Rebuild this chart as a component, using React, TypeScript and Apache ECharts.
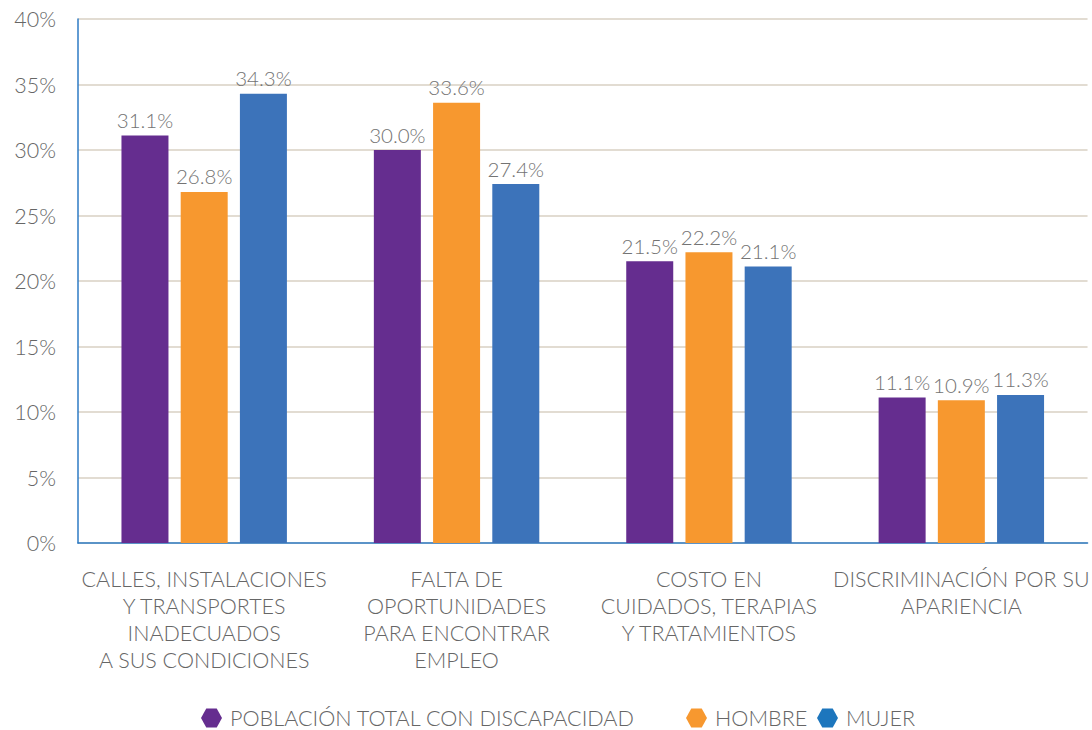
import React, { useEffect, useRef } from "react";
import * as echarts from "echarts";

const categories = [
  "CALLES, INSTALACIONES\nY TRANSPORTES\nINADECUADOS\nA SUS CONDICIONES",
  "FALTA DE\nOPORTUNIDADES\nPARA ENCONTRAR\nEMPLEO",
  "COSTO EN\nCUIDADOS, TERAPIAS\nY TRATAMIENTOS",
  "DISCRIMINACIÓN POR SU\nAPARIENCIA",
];
const seriesNames = ["POBLACIÓN TOTAL CON DISCAPACIDAD", "HOMBRE", "MUJER"];
const totalValues = [31.1, 30.0, 21.5, 11.1];
const hombreValues = [26.8, 33.6, 22.2, 10.9];
const mujerValues = [34.3, 27.4, 21.1, 11.3];
const colors = ["#652D8F", "#F7982F", "#3C73BA"];
const legendIconColors = ["#652D8F", "#F7982F", "#1D76BD"];

const FONT = "Lato, 'Open Sans', sans-serif";
const W = 300;
const GRAY = "#666666";
const HEX = "path://M5,0 L15,0 L20,9 L15,18 L5,18 L0,9 Z";

export default function App() {
  const ref = useRef<HTMLDivElement>(null);
  useEffect(() => {
    if (!ref.current) return;
    const chart = echarts.init(ref.current, null, { renderer: "svg" });
    const values = [totalValues, hombreValues, mujerValues];
    const legendLefts = [201, 686, 817];
    chart.setOption({
      animation: false,
      textStyle: { fontFamily: FONT },
      grid: { left: 78, right: 0, top: 19, bottom: 187, containLabel: false },
      legend: seriesNames.map((n, i) => ({
        data: [{ name: n, itemStyle: { color: legendIconColors[i] } }],
        left: legendLefts[i],
        top: 707,
        padding: 0,
        icon: HEX,
        itemWidth: 21,
        itemHeight: 19,
        itemGap: 0,
        textStyle: { color: GRAY, fontSize: 21.6, fontWeight: W, fontFamily: FONT, padding: [0, 0, 0, 3] },
        selectedMode: false,
      })),
      xAxis: {
        type: "category",
        data: categories,
        axisLine: { show: true, lineStyle: { color: "#2E7BC4", width: 1.5 } },
        axisTick: { show: false },
        axisLabel: {
          color: GRAY,
          fontSize: 21.5,
          fontWeight: W,
          fontFamily: FONT,
          lineHeight: 27,
          margin: 22,
          interval: 0,
          align: "center",
        },
      },
      yAxis: {
        type: "value",
        min: 0,
        max: 40,
        interval: 5,
        axisLine: { show: true, lineStyle: { color: "#2E7BC4", width: 1.5 } },
        axisTick: { show: false },
        axisLabel: {
          color: GRAY,
          fontSize: 21.5,
          fontWeight: W,
          fontFamily: FONT,
          margin: 22,
          formatter: (v: number) => `${v}%`,
        },
        splitLine: { show: true, lineStyle: { color: "#D9D0C3", width: 1.5 } },
      },
      series: seriesNames.map((n, i) => ({
        name: n,
        type: "bar",
        data: values[i],
        barWidth: 47,
        barGap: "26%",
        itemStyle: { color: colors[i] },
        label: {
          show: true,
          position: "top",
          distance: 5,
          color: "#737373",
          fontSize: 20.5,
          fontWeight: W,
          fontFamily: FONT,
          formatter: (p: any) => `${Number(p.value).toFixed(1)}%`,
        },
      })),
    });
    return () => chart.dispose();
  }, []);
  return (
    <div
      ref={ref}
      style={{ position: "fixed", left: 0, top: 0, width: 1092, height: 730, background: "#fff" }}
    />
  );
}
